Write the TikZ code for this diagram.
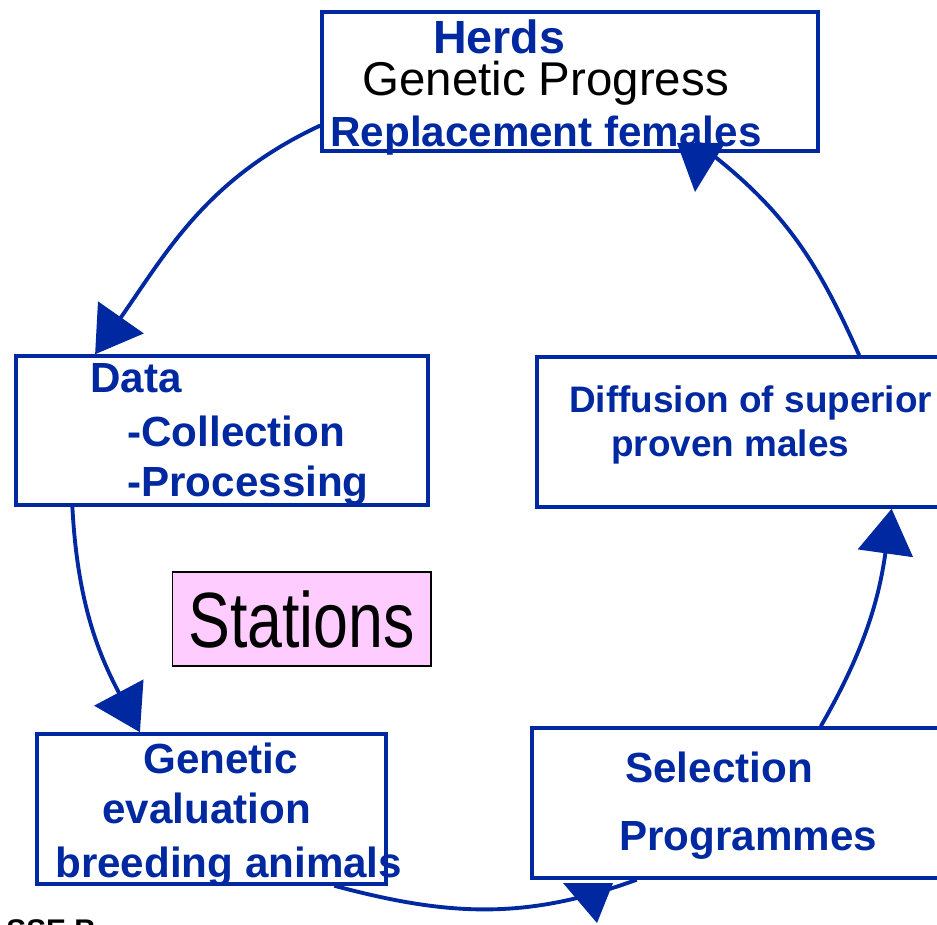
\documentclass[tikz,border=0pt]{standalone}
\usepackage{fontspec}
\setmainfont{Liberation Sans}
\newfontfamily\narrowsans[FakeStretch=0.8]{Liberation Sans}
\usepackage{tikz}
\usetikzlibrary{arrows.meta}
\definecolor{navy}{RGB}{0,40,160}
\definecolor{stationpink}{RGB}{255,204,255}

\begin{document}
\begin{tikzpicture}[x=0.02cm,y=0.02cm]
        \tikzstyle{box} = [rectangle, draw=navy, line width=2pt, inner sep=0pt]
        \tikzstyle{txt} = [anchor=base west, inner sep=0pt, text=navy, font=\fontsize{24}{28}\selectfont\bfseries]
        \tikzstyle{link} = [draw=navy, line width=2.2pt]
        \tikzstyle{head} = [-{Triangle[width=1.1cm,length=0.9cm]}]

        \clip (0,0) rectangle (937,-925);
        \fill[white] (0,0) rectangle (937,-925);

        % boxes
        \node[box, minimum width=9.92cm, minimum height=2.78cm] (herds) at (570,-81.5) {};
        \node[box, minimum width=8.24cm, minimum height=2.98cm] (data) at (222,-430.5) {};
        \node[box, minimum width=8.16cm, minimum height=3cm] (diffusion) at (741,-432) {};
        \node[box, minimum width=8.26cm, minimum height=3cm] (selection) at (738.5,-803) {};
        \node[box, minimum width=6.98cm, minimum height=3cm] (genetic) at (211.5,-809) {};
        \node[rectangle, draw=black, line width=0.6pt, fill=stationpink, inner sep=0pt,
              minimum width=5.18cm, minimum height=1.88cm,
              font=\narrowsans\fontsize{44.6}{50}\selectfont] (stations) at (301.5,-619) {Stations};

        % cycle
        \draw[link, head] (herds.190) to[out=205, in=55] (data.149.6);
        \draw[link, head] (data.207.8) to[out=273, in=118] (genetic.133.6);
        \draw[link] (genetic.-32) to[out=345, in=200] (selection.217.3);
        \draw[link, head] (selection.43.3) to[out=60, in=262] (diffusion.-27.5);
        \draw[link] (diffusion.33.5) to[out=114, in=-38] (herds.-27.2);
        \fill[navy] (563,-883) -- (613,-883) -- (597,-923) -- cycle;
        \fill[navy] (677,-143) -- (725,-143) -- (695,-192) -- cycle;

        % texts
        \node[txt, font=\fontsize{26.5}{30}\selectfont\bfseries] (herdsT) at (433,-54) {Herds};
        \node[txt, text=black, font=\fontsize{27}{30}\selectfont] (progress) at (362,-96) {Genetic Progress};
        \node[txt] (females) at (330,-147) {Replacement females};
        \node[txt] (dataT) at (90,-393) {Data};
        \node[txt] (collect) at (127,-447) {-Collection};
        \node[txt] (process) at (127,-497) {-Processing};
        \node[txt, font=\fontsize{21}{25}\selectfont\bfseries] (diffA) at (569,-413) {Diffusion of superior};
        \node[txt, font=\fontsize{21}{25}\selectfont\bfseries] (diffB) at (611,-457) {proven males};
        \node[txt] (selA) at (625,-783) {Selection};
        \node[txt] (selB) at (619,-850) {Programmes};
        \node[txt] (genA) at (143,-773) {Genetic};
        \node[txt] (genB) at (102,-824) {evaluation};
        \node[txt] (genC) at (55,-877) {breeding animals};
        \node[txt, text=black, font=\fontsize{17}{20}\selectfont\bfseries] (cut) at (6,-940) {SSE B};
\end{tikzpicture}
\end{document}
